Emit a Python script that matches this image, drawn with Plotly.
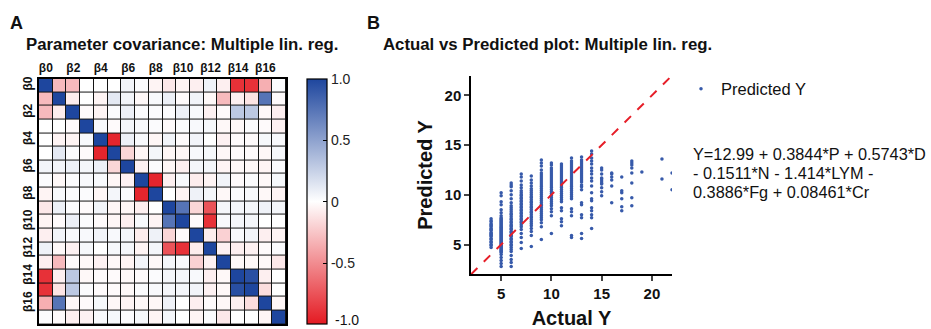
import plotly.graph_objects as go

# ---------------- Data ----------------
tick_idx = [0, 2, 4, 6, 8, 10, 12, 14, 16]
tick_labels = ["β0", "β2", "β4", "β6", "β8", "β10", "β12", "β14", "β16"]
cbar_vals = [1, 0.5, 0, -0.5, -1]
cbar_text = ["1.0", "0.5", "0", "-0.5", "-1.0"]

# upper triangle of the (symmetric) parameter covariance/correlation matrix, row i starts at column i
upper = [
    [1, -0.3, -0.3, 0, 0, 0, 0.06, 0.02, -0.05, -0.1, -0.05, -0.07, 0.07, -0.07, -0.9, -0.9, -0.35, 0.02],
    [1, -0.08, 0, -0.05, 0.12, 0.06, -0.03, 0.03, 0.08, -0.02, 0.06, -0.03, -0.3, -0.07, -0.12, 0.75, -0.02],
    [1, -0.02, -0.05, 0.02, 0.08, 0.02, 0.02, 0.02, 0.08, 0.03, -0.06, -0.02, 0.3, 0.3, -0.03, -0.07],
    [1, 0.03, -0.02, 0.05, 0.03, 0.02, -0.02, 0.02, 0.03, 0.04, -0.03, -0.03, 0.02, -0.02, -0.06],
    [1, -0.95, 0.08, 0.03, -0.04, 0.06, -0.02, 0.06, 0.0, -0.06, -0.02, -0.02, 0.04, 0.03],
    [1, -0.18, -0.04, 0.05, -0.04, -0.04, 0.03, 0.04, -0.03, -0.02, -0.02, -0.03, 0.04],
    [1, -0.06, 0.02, -0.04, -0.07, 0.05, 0.05, -0.05, -0.03, -0.03, -0.05, 0.02],
    [1, -0.95, -0.07, 0.03, -0.08, -0.05, 0.06, -0.02, 0.02, -0.03, 0.04],
    [1, 0.0, -0.05, 0.07, 0.05, -0.03, 0.02, 0.03, -0.03, -0.05],
    [1, 0.75, -0.18, -0.75, 0.05, 0.05, 0.05, 0.07, 0.05],
    [1, -0.02, -0.9, 0.03, 0.05, 0.05, 0.0, 0.0],
    [1, -0.08, -0.2, 0.03, 0.06, -0.07, -0.05],
    [1, -0.06, -0.07, -0.06, -0.02, 0.02],
    [1, -0.03, -0.03, -0.03, -0.1],
    [1, 0.95, -0.07, 0.0],
    [1, -0.15, 0.0],
    [1, -0.04],
    [1],
]

# Actual Y values and their predicted Y values
pred_by_actual = {
    4: [4.7, 4.9, 5.0, 5.2, 5.3, 5.5, 5.6, 5.8, 5.9, 6.0, 6.1, 6.2, 6.4, 6.5, 6.6, 6.8, 6.9, 7.0, 7.1, 7.3, 7.4, 7.6],
    5: [2.8, 3.1, 3.4, 3.7, 4.0, 4.2, 4.3, 4.4, 4.5, 4.6, 4.7, 4.8, 4.9, 5.0, 5.1, 5.2, 5.3, 5.4, 5.5, 5.6,
        5.7, 5.8, 5.9, 6.0, 6.1, 6.2, 6.3, 6.4, 6.5, 6.6, 6.7, 6.8, 6.9, 7.0, 7.1, 7.2, 7.3, 7.4, 7.5, 7.6,
        7.7, 7.9, 8.2, 8.5, 9.0, 9.3, 9.9, 10.2],
    6: [2.8, 3.2, 3.5, 3.9, 4.3, 4.5, 4.7, 4.9, 5.0, 5.2, 5.3, 5.5, 5.6, 5.8, 5.9, 6.0, 6.2, 6.3, 6.5, 6.6,
        6.8, 6.9, 7.0, 7.2, 7.3, 7.5, 7.6, 7.8, 8.0, 8.1, 8.3, 8.5, 8.7, 8.9, 9.2, 9.6, 10.0, 10.4, 10.8, 11.0, 11.2],
    7: [4.6, 5.2, 5.7, 6.1, 6.5, 6.8, 7.0, 7.2, 7.3, 7.5, 7.6, 7.8, 7.9, 8.1, 8.2, 8.4, 8.5, 8.7, 8.8, 9.0,
        9.1, 9.3, 9.4, 9.6, 9.7, 9.9, 10.0, 10.2, 10.4, 10.7, 11.0, 11.4, 11.8, 12.1],
    8: [4.8, 5.9, 6.3, 6.6, 6.9, 7.1, 7.3, 7.5, 7.7, 7.8, 8.0, 8.2, 8.3, 8.5, 8.7, 8.8, 9.0, 9.2, 9.3, 9.5,
        9.7, 9.8, 10.0, 10.2, 10.4, 10.6, 10.9, 11.2, 11.5, 11.9],
    9: [5.5, 6.8, 7.2, 7.5, 7.7, 7.9, 8.1, 8.3, 8.5, 8.7, 8.9, 9.0, 9.2, 9.4, 9.6, 9.8, 10.0, 10.2, 10.4, 10.6,
        10.8, 11.0, 11.2, 11.4, 11.6, 11.8, 12.0, 12.2, 12.5, 12.9, 13.2, 13.5],
    10: [6.1, 7.9, 8.3, 8.6, 8.9, 9.1, 9.3, 9.5, 9.7, 9.9, 10.1, 10.3, 10.5, 10.7, 10.9, 11.1, 11.3, 11.5,
         11.7, 11.9, 12.1, 12.3, 12.5, 12.7, 13.0, 13.2],
    11: [6.9, 7.3, 7.6, 8.4, 8.7, 9.3, 9.5, 9.7, 9.9, 10.1, 10.3, 10.5, 10.7, 10.9, 11.1, 11.3, 11.5, 11.7,
         11.9, 12.1, 12.3, 12.5, 12.7, 12.9, 13.1],
    12: [5.7, 5.9, 7.9, 8.3, 8.6, 9.6, 9.8, 10.0, 10.2, 10.4, 10.6, 10.8, 11.0, 11.2, 11.4, 11.6, 11.8, 12.0,
         12.2, 12.4, 12.6, 12.8, 13.0, 13.2, 13.4, 13.7],
    13: [5.6, 6.1, 7.7, 8.0, 9.0, 9.2, 10.5, 10.8, 11.0, 11.3, 11.5, 11.7, 11.9, 12.1, 12.3, 12.5, 12.7,
         12.9, 13.1, 13.3, 13.5, 13.8],
    14: [6.6, 7.7, 8.0, 8.4, 8.7, 9.4, 9.6, 10.2, 10.9, 11.4, 11.7, 12.1, 12.4, 12.7, 13.1, 13.4, 13.7, 14.1, 14.4],
    15: [9.9, 10.3, 10.7, 11.1, 11.2, 11.4, 11.6, 11.7, 12.1, 12.5, 12.7],
    16: [9.2, 10.9, 11.5, 11.8, 12.1, 12.2],
    17: [8.4, 8.8, 9.6, 10.2, 10.4, 11.8],
    18: [8.9, 9.7, 11.2, 12.2, 12.7, 13.0, 13.2, 13.4],
    19: [12.3],
    21: [11.6, 13.6],
    22: [10.5, 12.2],
}
identity_line = [2, 22]
equation_lines = [
    "Y=12.99 + 0.3844*P + 0.5743*D",
    "- 0.1511*N - 1.414*LYM -",
    "0.3886*Fg + 0.08461*Cr",
]

# ---------------- Build ----------------
n = len(upper)
matrix = [[0.0] * n for _ in range(n)]
for i, row in enumerate(upper):
    for k, v in enumerate(row):
        j = i + k
        matrix[i][j] = v
        matrix[j][i] = v

actual_x, pred_y = [], []
for a, vals in pred_by_actual.items():
    for v in vals:
        actual_x.append(a)
        pred_y.append(v)

W, H = 931, 329
FONT = "Liberation Sans, Arial, sans-serif"
RED = "rgb(228,26,34)"
BLUE = "rgb(30,70,158)"

def px_x(p):
    return p / W

def px_y(p):
    return 1 - p / H

# colorbar geometry (pixels)
CB_TOP, CB_BOT = 78, 324

fig = go.Figure()

fig.add_trace(go.Heatmap(
    z=matrix, x=list(range(n)), y=list(range(n)),
    zmin=-1, zmax=1,
    colorscale=[[0, RED], [0.5, "rgb(255,255,255)"], [1, BLUE]],
    xgap=1, ygap=1,
    xaxis="x", yaxis="y",
    colorbar=dict(
        x=px_x(307), xanchor="left", xpad=0,
        y=px_y((CB_TOP + CB_BOT) / 2), yanchor="middle", ypad=0,
        len=(CB_BOT - CB_TOP) / H, lenmode="fraction",
        thickness=20, thicknessmode="pixels",
        outlinecolor="black", outlinewidth=1.2,
        tickvals=cbar_vals[:-1], ticktext=cbar_text[:-1],
        ticks="inside", ticklen=4, tickcolor="black",
        tickfont=dict(family=FONT, size=14, color="#222"),
    ),
    hoverinfo="skip",
))

fig.add_trace(go.Scatter(
    x=actual_x, y=pred_y, mode="markers",
    marker=dict(symbol="circle", size=3.5, color="rgb(55,90,170)"),
    name="Predicted Y", xaxis="x2", yaxis="y2", showlegend=True,
))

fig.add_trace(go.Scatter(
    x=identity_line, y=identity_line, mode="lines",
    line=dict(color="rgb(230,30,40)", width=2, dash="dash"),
    xaxis="x2", yaxis="y2", showlegend=False, hoverinfo="skip",
))

fig.update_layout(
    width=W, height=H,
    margin=dict(l=0, r=0, t=0, b=0),
    paper_bgcolor="white", plot_bgcolor="white",
    font=dict(family=FONT, color="#111"),
    xaxis=dict(
        domain=[px_x(39), px_x(286)], range=[-0.5, n - 0.5],
        side="top", tickvals=tick_idx, ticktext=tick_labels,
        tickfont=dict(family=FONT, size=12, color="#111", weight="bold"),
        showgrid=False, zeroline=False, showline=True, mirror=True,
        linecolor="black", linewidth=1.5, ticks="", ticklen=0,
    ),
    yaxis=dict(
        domain=[px_y(324), px_y(77)], range=[n - 0.5, -0.5],
        tickvals=tick_idx, ticktext=tick_labels, tickangle=-90,
        tickfont=dict(family=FONT, size=12, color="#111", weight="bold"),
        showgrid=False, zeroline=False, showline=True, mirror=True,
        linecolor="black", linewidth=1.5, ticks="", ticklen=0,
    ),
    xaxis2=dict(
        domain=[px_x(471), px_x(672)], range=[2, 22], anchor="y2",
        tickvals=[5, 10, 15, 20], ticks="outside", ticklen=5, tickwidth=1.5,
        tickfont=dict(family=FONT, size=15, color="#111", weight="bold"),
        showgrid=False, zeroline=False, showline=True, linecolor="black", linewidth=1.5,
        title=dict(text="<b>Actual Y</b>", font=dict(family=FONT, size=20, color="#111"), standoff=10),
    ),
    yaxis2=dict(
        domain=[px_y(274), px_y(74)], range=[2, 22], anchor="x2",
        tickvals=[5, 10, 15, 20], ticks="outside", ticklen=5, tickwidth=1.5,
        tickfont=dict(family=FONT, size=15, color="#111", weight="bold"),
        showgrid=False, zeroline=False, showline=True, linecolor="black", linewidth=1.5,
        title=dict(text="<b>Predicted Y</b>", font=dict(family=FONT, size=20, color="#111"), standoff=7),
    ),
    legend=dict(
        x=px_x(681), y=px_y(70), xanchor="left", yanchor="top",
        font=dict(family=FONT, size=16.5, color="#111"),
        bgcolor="rgba(0,0,0,0)", itemsizing="trace",
    ),
    showlegend=True,
    shapes=[dict(
        type="rect", xref="x", yref="y", x0=-0.5, x1=n - 0.5, y0=-0.5, y1=n - 0.5,
        fillcolor="rgb(20,20,20)", line=dict(width=0), layer="below",
    )],
)

annotations = [
    dict(text="<b>A</b>", x=px_x(9), y=px_y(21), font=dict(size=18)),
    dict(text="<b>Parameter covariance: Multiple lin. reg.</b>", x=px_x(25), y=px_y(43), font=dict(size=16.8)),
    dict(text="<b>B</b>", x=px_x(366), y=px_y(21), font=dict(size=18)),
    dict(text="<b>Actual vs Predicted plot: Multiple lin. reg.</b>", x=px_x(382), y=px_y(43), font=dict(size=16.8)),
    # bottom colorbar label, at the lower end of the bar
    dict(text=cbar_text[-1], x=px_x(334), y=px_y(320), font=dict(size=14)),
]
for k, line in enumerate(equation_lines):
    annotations.append(dict(text=line, x=px_x(692), y=px_y(153 + 19 * k), font=dict(size=16.3)))

for a in annotations:
    a.update(xref="paper", yref="paper", xanchor="left", yanchor="middle", showarrow=False, borderpad=0)
    a["font"].update(family=FONT, color="#111")
fig.update_layout(annotations=annotations)

fig.write_html(
    "out.html",
    config={"displayModeBar": False},
    post_script="document.body.style.margin='0';document.body.style.padding='0';",
)
